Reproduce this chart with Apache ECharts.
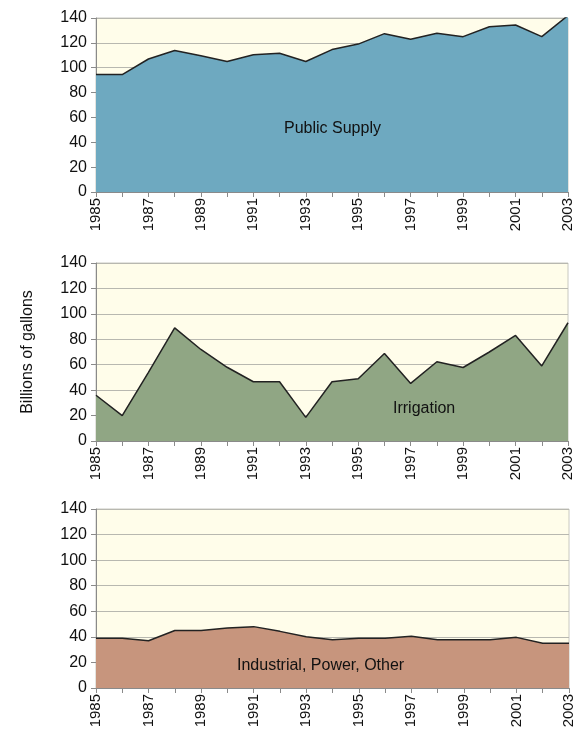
<!DOCTYPE html>
<html><head><meta charset="utf-8">
<script src="https://cdn.jsdelivr.net/npm/echarts@6/dist/echarts.min.js"></script>
<style>html,body{margin:0;padding:0;background:#fff}#c{width:583px;height:732px}</style>
</head><body><div id="c"></div>
<script>
const years = ['1985','1986','1987','1988','1989','1990','1991','1992','1993','1994','1995','1996','1997','1998','1999','2000','2001','2002','2003'];
const publicSupply = [94.5,94.5,107,113.8,109.7,105,110.5,111.6,105,114.6,119,127.4,122.9,127.7,125,133,134.4,125,142];
const irrigation = [36,20,54,89,72,58,46.6,46.6,18.6,46.6,49,68.8,45.3,62.3,57.8,70,83,59,93];
const industrial = [39,39,37,45,45,47,48,44.3,40,37.8,39,39,40.4,37.8,37.8,37.8,39.6,35,35];
const panelNames = ['Public Supply','Irrigation','Industrial, Power, Other'];
const yTitle = 'Billions of gallons';

const chart = echarts.init(document.getElementById('c'));
const grids = [
  {left:96, width:472, top:18, height:174},
  {left:96, width:472, top:263, height:178},
  {left:96, width:473, top:509, height:179}
];
const fills = ['#6ea9c0','#90a684','#c7957d'];
const datas = [publicSupply, irrigation, industrial];
const font = 'Liberation Sans, Arial, sans-serif';
const option = {
  animation:false,
  grid: grids.map(g=>Object.assign({show:true, backgroundColor:'#fffdea', borderColor:'#c8c8c0', borderWidth:1}, g)),
  xAxis: grids.map((g,i)=>({
    type:'category', gridIndex:i, data:years, boundaryGap:false,
    axisLine:{lineStyle:{color:'#8a8a8a'}},
    axisTick:{show:true, interval:0, length:5, lineStyle:{color:'#8a8a8a'}},
    axisLabel:{interval:1, rotate:90, color:'#111', fontSize:15, fontFamily:font, margin:6},
    splitLine:{show:false}
  })),
  yAxis: grids.map((g,i)=>({
    type:'value', gridIndex:i, min:0, max:140, interval:20,
    name: i===1 ? yTitle : '', nameLocation:'middle', nameGap:60,
    nameTextStyle:{fontSize:16, color:'#111', fontFamily:font},
    axisLine:{show:true, lineStyle:{color:'#8a8a8a'}},
    axisTick:{show:true, length:5, lineStyle:{color:'#8a8a8a'}},
    axisLabel:{color:'#111', fontSize:16, fontFamily:font, margin:9},
    splitLine:{show:true, lineStyle:{color:'#b8b8b0', width:1}}
  })),
  series: datas.map((d,i)=>({
    type:'line', xAxisIndex:i, yAxisIndex:i, data:d, symbol:'none',
    lineStyle:{color:'#222', width:1.5},
    areaStyle:{color:fills[i], opacity:1},
    clip:true
  })),
  graphic: [
    {type:'text', z:100, left:284, top:121, style:{text:panelNames[0], font:'16px '+font, fill:'#111'}},
    {type:'text', z:100, left:393, top:401, style:{text:panelNames[1], font:'16px '+font, fill:'#111'}},
    {type:'text', z:100, left:237, top:658, style:{text:panelNames[2], font:'16px '+font, fill:'#111'}}
  ]
};
chart.setOption(option);
</script></body></html>
